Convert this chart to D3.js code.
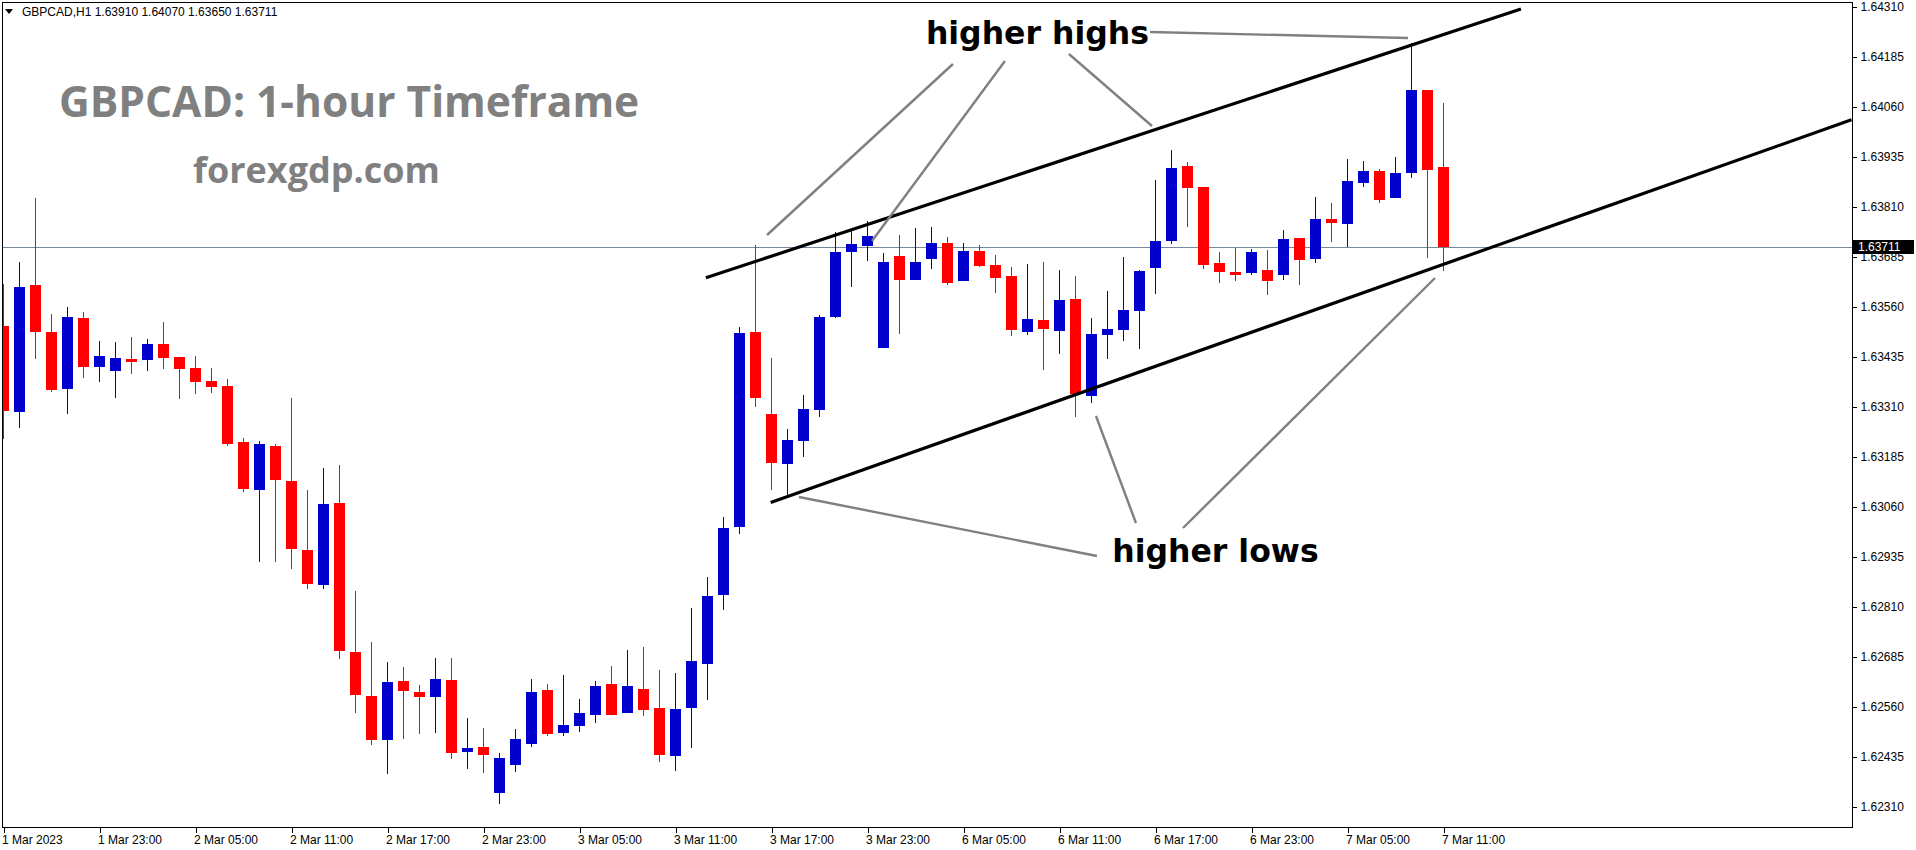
<!DOCTYPE html>
<html><head><meta charset="utf-8">
<script src="https://cdn.jsdelivr.net/npm/d3@7"></script>
<style>
html,body{margin:0;padding:0;background:#fff;}
svg{display:block;}
</style></head>
<body>
<svg id="chart" width="1916" height="850"></svg>
<script>
// ---------------- DATA ----------------
const symbolHeader = "GBPCAD,H1  1.63910 1.64070 1.63650 1.63711";
const titleText = "GBPCAD: 1-hour Timeframe";
const siteText = "forexgdp.com";

const openP = [
1.63513,1.63298,1.63615,1.63498,1.63355,1.63533,1.63410,1.63400,1.63430,1.63428,
1.63468,1.63435,1.63408,1.63375,1.63363,1.63223,1.63103,1.63213,1.63125,1.62953,
1.62865,1.63070,1.62698,1.62588,1.62478,1.62625,1.62598,1.62585,1.62628,1.62448,
1.62460,1.62345,1.62415,1.62468,1.62603,1.62495,1.62513,1.62540,1.62618,1.62545,
1.62605,1.62558,1.62438,1.62558,1.62668,1.62840,1.63010,1.63498,1.63293,1.63168,
1.63225,1.63303,1.63535,1.63698,1.63713,1.63458,1.63688,1.63628,1.63680,1.63720,
1.63625,1.63700,1.63665,1.63638,1.63498,1.63528,1.63500,1.63580,1.63338,1.63490,
1.63503,1.63550,1.63658,1.63725,1.63913,1.63860,1.63670,1.63648,1.63645,1.63653,
1.63640,1.63733,1.63680,1.63780,1.63768,1.63870,1.63900,1.63833,1.63895,1.64103,
1.63910];
const highP = [
1.63618,1.63673,1.63833,1.63543,1.63560,1.63548,1.63475,1.63473,1.63485,1.63480,
1.63523,1.63435,1.63438,1.63408,1.63380,1.63233,1.63225,1.63218,1.63333,1.63103,
1.63158,1.63165,1.62850,1.62723,1.62673,1.62660,1.62615,1.62683,1.62683,1.62533,
1.62508,1.62445,1.62505,1.62630,1.62618,1.62640,1.62580,1.62625,1.62663,1.62703,
1.62710,1.62653,1.62645,1.62808,1.62885,1.63035,1.63510,1.63715,1.63433,1.63255,
1.63340,1.63540,1.63748,1.63753,1.63775,1.63695,1.63740,1.63758,1.63760,1.63735,
1.63720,1.63715,1.63690,1.63660,1.63668,1.63673,1.63653,1.63638,1.63533,1.63600,
1.63685,1.63653,1.63878,1.63953,1.63923,1.63860,1.63698,1.63708,1.63705,1.63703,
1.63753,1.63733,1.63835,1.63820,1.63930,1.63925,1.63905,1.63935,1.64220,1.64103,
1.64070];
const lowP = [
1.63230,1.63258,1.63430,1.63348,1.63293,1.63383,1.63373,1.63333,1.63393,1.63400,
1.63405,1.63330,1.63343,1.63345,1.63213,1.63098,1.62923,1.62923,1.62905,1.62855,
1.62855,1.62680,1.62545,1.62465,1.62393,1.62480,1.62493,1.62495,1.62430,1.62405,
1.62395,1.62318,1.62398,1.62460,1.62488,1.62488,1.62498,1.62520,1.62540,1.62545,
1.62538,1.62423,1.62400,1.62458,1.62578,1.62803,1.62993,1.63310,1.63103,1.63088,
1.63185,1.63285,1.63533,1.63610,1.63675,1.63458,1.63493,1.63628,1.63655,1.63615,
1.63625,1.63660,1.63595,1.63488,1.63490,1.63403,1.63443,1.63285,1.63320,1.63430,
1.63475,1.63455,1.63593,1.63718,1.63760,1.63655,1.63620,1.63625,1.63640,1.63590,
1.63628,1.63615,1.63670,1.63723,1.63710,1.63860,1.63820,1.63833,1.63883,1.63683,
1.63650];
const closeP = [
1.63300,1.63610,1.63498,1.63353,1.63535,1.63410,1.63438,1.63433,1.63423,1.63468,
1.63433,1.63405,1.63373,1.63360,1.63218,1.63105,1.63218,1.63128,1.62955,1.62868,
1.63068,1.62701,1.62591,1.62478,1.62623,1.62600,1.62585,1.62630,1.62445,1.62458,
1.62440,1.62433,1.62480,1.62598,1.62493,1.62515,1.62545,1.62613,1.62540,1.62613,
1.62553,1.62440,1.62555,1.62675,1.62838,1.63008,1.63495,1.63333,1.63170,1.63228,
1.63305,1.63535,1.63698,1.63718,1.63738,1.63673,1.63628,1.63673,1.63720,1.63620,
1.63700,1.63663,1.63633,1.63503,1.63530,1.63505,1.63578,1.63343,1.63493,1.63505,
1.63553,1.63650,1.63725,1.63908,1.63858,1.63665,1.63648,1.63640,1.63698,1.63625,
1.63730,1.63678,1.63780,1.63770,1.63875,1.63900,1.63828,1.63895,1.64103,1.63903,
1.63711];

const currentPrice = 1.63711;
const priceTicks = [1.64310,1.64185,1.64060,1.63935,1.63810,1.63685,1.63560,1.63435,1.63310,
                    1.63185,1.63060,1.62935,1.62810,1.62685,1.62560,1.62435,1.62310];
const timeTickIndex = [0,6,12,18,24,30,36,42,48,54,60,66,72,78,84,90];
const timeTickLabels = ["1 Mar 2023","1 Mar 23:00","2 Mar 05:00","2 Mar 11:00","2 Mar 17:00",
  "2 Mar 23:00","3 Mar 05:00","3 Mar 11:00","3 Mar 17:00","3 Mar 23:00","6 Mar 05:00",
  "6 Mar 11:00","6 Mar 17:00","6 Mar 23:00","7 Mar 05:00","7 Mar 11:00"];

// channel lines [barIndex, price]
const upperChannel = [[43.9,1.63633],[94.84,1.64305]];
const lowerChannel = [[47.95,1.63071],[115.5,1.64028]];
// pointer annotations [barIndex, price] pairs
const highPointers = [
  [[59.34,1.641675],[47.72,1.63740]],
  [[62.59,1.64175],[54.28,1.63725]],
  [[66.59,1.641925],[71.78,1.640125]],
  [[71.66,1.642475],[87.78,1.642325]]
];
const lowPointers = [
  [[49.72,1.63085],[68.34,1.629375]],
  [[68.28,1.632875],[70.78,1.63020]],
  [[89.47,1.636325],[73.72,1.630075]]
];
const highLabel = {text:"higher highs", i:57.65, p:1.64218};
const lowLabel = {text:"higher lows", i:69.3, p:1.62922};

// ---------------- CHART ----------------
const svg = d3.select("#chart");
const W = 1916, H = 850;
const plot = {left:2, top:2, right:1852, bottom:827};

svg.append("rect").attr("width",W).attr("height",H).attr("fill","#fff");

const x = d3.scaleLinear().domain([0,90]).range([3.5,1443.5]);
const y = d3.scaleLinear().domain([1.62310,1.64310]).range([807,7]);

svg.append("defs").append("clipPath").attr("id","plotclip")
  .append("rect").attr("x",plot.left+1).attr("y",plot.top+1)
  .attr("width",plot.right-plot.left-1).attr("height",plot.bottom-plot.top-1);

const g = svg.append("g").attr("clip-path","url(#plotclip)");

// current price line
g.append("line")
  .attr("x1",plot.left).attr("x2",plot.right)
  .attr("y1",Math.round(y(currentPrice))+0.5).attr("y2",Math.round(y(currentPrice))+0.5)
  .attr("stroke","#778899").attr("stroke-width",1);

// candles
const data = openP.map((o,i)=>({i,o,h:highP[i],l:lowP[i],c:closeP[i]}));
const up = "#0000CC", dn = "#FF0000";
const cg = g.append("g").attr("shape-rendering","crispEdges");
cg.selectAll("rect.wick").data(data).join("rect")
  .attr("class","wick")
  .attr("x",d=>Math.round(x(d.i)-0.5))
  .attr("width",1)
  .attr("y",d=>Math.round(y(d.h)))
  .attr("height",d=>Math.max(1,Math.round(y(d.l))-Math.round(y(d.h))))
  .attr("fill",d=>d.c>=d.o?up:dn);
cg.selectAll("rect.body").data(data).join("rect")
  .attr("class","body")
  .attr("x",d=>Math.round(x(d.i)-5.5))
  .attr("width",11)
  .attr("y",d=>Math.round(y(Math.max(d.o,d.c))))
  .attr("height",d=>Math.max(2,Math.round(y(Math.min(d.o,d.c)))-Math.round(y(Math.max(d.o,d.c)))))
  .attr("fill",d=>d.c>=d.o?up:dn);

// channel lines
const lineGen = d3.line().x(d=>x(d[0])).y(d=>y(d[1]));
[upperChannel, lowerChannel].forEach(l=>{
  g.append("path").attr("d",lineGen(l)).attr("fill","none")
   .attr("stroke","#000").attr("stroke-width",3.2);
});

// pointer lines
[...highPointers, ...lowPointers].forEach(l=>{
  g.append("path").attr("d",lineGen(l)).attr("fill","none")
   .attr("stroke","#808080").attr("stroke-width",2.4);
});

// annotation labels
[highLabel, lowLabel].forEach(t=>{
  g.append("text").attr("x",x(t.i)).attr("y",y(t.p))
   .attr("font-family","DejaVu Sans, Verdana, sans-serif")
   .attr("font-weight","bold").attr("font-size",31.5)
   .attr("fill","#000").text(t.text);
});

// title texts
svg.append("text").attr("x",59).attr("y",117)
  .attr("font-family","Open Sans, sans-serif").attr("font-weight","bold")
  .attr("font-size",42.5).attr("fill","#808080").text(titleText);
svg.append("text").attr("x",193).attr("y",183)
  .attr("font-family","Open Sans, sans-serif").attr("font-weight","bold")
  .attr("font-size",36).attr("fill","#808080").text(siteText);

// border
svg.append("rect").attr("x",plot.left+0.5).attr("y",plot.top+0.5)
  .attr("width",plot.right-plot.left).attr("height",plot.bottom-plot.top)
  .attr("fill","none").attr("stroke","#000").attr("stroke-width",1)
  .attr("shape-rendering","crispEdges");

// right price axis
const yAxis = d3.axisRight(y).tickValues(priceTicks).tickFormat(d3.format(".5f"))
  .tickSize(4).tickPadding(4);
const ya = svg.append("g").attr("transform",`translate(${plot.right+0.5},0)`).call(yAxis);
ya.select(".domain").remove();
ya.selectAll("text").attr("font-family","Liberation Sans, Arial, sans-serif")
  .attr("font-size",12).attr("fill","#000");
ya.selectAll("line").attr("stroke","#000").attr("shape-rendering","crispEdges");

// bottom time axis
const xAxis = d3.axisBottom(x).tickValues(timeTickIndex)
  .tickFormat((d,k)=>timeTickLabels[k]).tickSize(5).tickPadding(3);
const xa = svg.append("g").attr("transform",`translate(0,${plot.bottom+0.5})`).call(xAxis);
xa.select(".domain").remove();
xa.selectAll("text").attr("font-family","Liberation Sans, Arial, sans-serif")
  .attr("font-size",12).attr("fill","#000").attr("text-anchor","start").attr("dx",-2);
xa.selectAll("line").attr("stroke","#000").attr("shape-rendering","crispEdges");

// current price label
const cy = Math.round(y(currentPrice));
svg.append("rect").attr("x",plot.right+1).attr("y",cy-7).attr("width",61).attr("height",14)
  .attr("fill","#000");
svg.append("text").attr("x",plot.right+6).attr("y",cy).attr("dy","0.35em")
  .attr("font-family","Liberation Sans, Arial, sans-serif").attr("font-size",12)
  .attr("fill","#fff").text(d3.format(".5f")(currentPrice));

// header
svg.append("path").attr("d","M5,9 L13,9 L9,14 Z").attr("fill","#000");
svg.append("rect").attr("x",3).attr("y",3).attr("width",290).attr("height",16).attr("fill","#fff").lower();
svg.append("text").attr("x",22).attr("y",16)
  .attr("font-family","Liberation Sans, Arial, sans-serif").attr("font-size",12)
  .attr("fill","#000").text(symbolHeader);
</script>
</body></html>
